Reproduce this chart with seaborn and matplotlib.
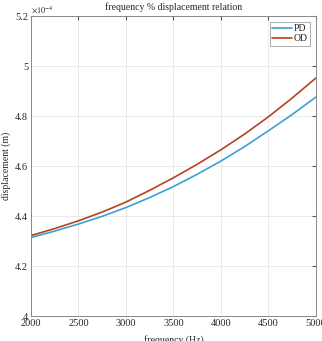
import numpy as np
import pandas as pd
import seaborn as sns
import matplotlib.pyplot as plt
from matplotlib.ticker import FuncFormatter

freq = [2000, 2250, 2500, 2750, 3000, 3250, 3500, 3750, 4000, 4250, 4500, 4750, 5000]
# displacement values in units of 1e-4 m
pd_disp = [4.314, 4.340, 4.368, 4.399, 4.434, 4.474, 4.518, 4.567, 4.620, 4.678, 4.741, 4.806, 4.876]
od_disp = [4.322, 4.350, 4.381, 4.416, 4.456, 4.503, 4.553, 4.607, 4.665, 4.728, 4.797, 4.872, 4.952]

df = pd.DataFrame({
    'freq': freq * 2,
    'disp': pd_disp + od_disp,
    'series': ['PD'] * len(freq) + ['OD'] * len(freq),
})

sns.set_style('white')
plt.rcParams['font.family'] = ['Liberation Serif', 'DejaVu Serif']
plt.rcParams['mathtext.fontset'] = 'stix'

fig = plt.figure(figsize=(3.22, 3.41), dpi=100)
ax = fig.add_axes([0.096, 0.073, 0.885, 0.88])

sns.lineplot(data=df, x='freq', y='disp', hue='series',
             palette={'PD': '#3d9fd3', 'OD': '#b4421f'},
             linewidth=1.2, ax=ax)

ax.set_xlim(2000, 5000)
ax.set_ylim(4, 5.2)
ax.set_xticks([2000, 2500, 3000, 3500, 4000, 4500, 5000])
ax.set_yticks([4, 4.2, 4.4, 4.6, 4.8, 5, 5.2])
ax.yaxis.set_major_formatter(FuncFormatter(lambda v, p: '%g' % round(v, 2)))
ax.tick_params(labelsize=7.5, direction='in', length=3, top=True, right=True,
               color='#555555', pad=2)
ax.grid(True, color='#e6e6e6', linewidth=0.6)
for s in ax.spines.values():
    s.set_color('#888888')
    s.set_linewidth(0.7)

ax.text(0.0, 1.005, r'$\times10^{-4}$', transform=ax.transAxes, fontsize=6,
        ha='left', va='bottom')
ax.set_title('frequency % displacement relation', fontsize=7, pad=4)
ax.set_xlabel('frequency (Hz)', fontsize=7, labelpad=5)
ax.set_ylabel('displacement (m)', fontsize=7, labelpad=3)

leg = ax.legend(loc='upper right', fontsize=7, frameon=True, fancybox=False,
                handlelength=2.0, handletextpad=0.2, borderpad=0.25,
                labelspacing=0.1, borderaxespad=0.6)
leg.get_frame().set_edgecolor('#888888')
leg.get_frame().set_linewidth(0.6)

fig.savefig('out.png', dpi=100)
